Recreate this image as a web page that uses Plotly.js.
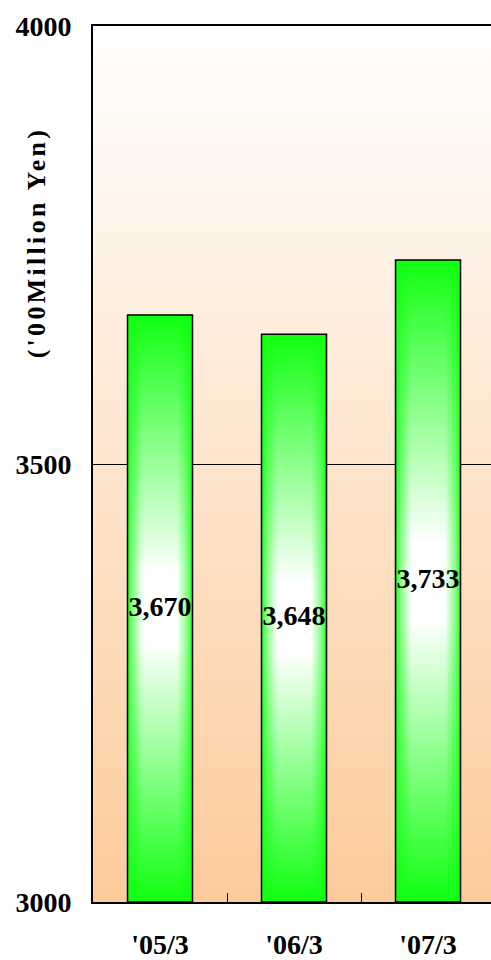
<!DOCTYPE html>
<html>
<head>
<meta charset="utf-8">
<script src="https://cdn.plot.ly/plotly-3.0.1.min.js"></script>
<style>html,body{margin:0;padding:0;background:#fff;}#chart{width:491px;height:960px;}</style>
</head>
<body>
<div id="chart"></div>
<script>
// ---- data ----
const categories = ["'05/3", "'06/3", "'07/3"];
const values = [3670, 3648, 3733];
const yTicks = [3000, 3500, 4000];
const yTitle = "('00Million Yen)";

// ---- style ----
const FONT = "Liberation Serif";
const GREEN = '#11FF11';
const BAR_W = 0.485;
const BASE = yTicks[0];
const xIdx = categories.map((_, i) => i);

const traces = [];
values.forEach((v, i) => {
  const xs = [i - BAR_W / 2, i + BAR_W / 2, i + BAR_W / 2, i - BAR_W / 2, i - BAR_W / 2];
  const ys = [BASE, BASE, v, v, BASE];
  traces.push({
    type: 'scatter', mode: 'lines', x: xs, y: ys, fill: 'toself',
    line: {width: 0, color: 'rgba(0,0,0,0)'},
    fillgradient: {type: 'vertical', start: BASE, stop: v,
      colorscale: [[0, GREEN], [0.44, '#FFFFFF'], [0.56, '#FFFFFF'], [1, GREEN]]},
    hoverinfo: 'skip', showlegend: false
  });
  traces.push({
    type: 'scatter', mode: 'lines', x: xs, y: ys, fill: 'toself',
    line: {width: 1.5, color: '#000'},
    fillgradient: {type: 'horizontal', start: i - BAR_W / 2, stop: i + BAR_W / 2,
      colorscale: [[0, 'rgba(17,255,17,0.95)'], [0.08, 'rgba(17,255,17,0.5)'], [0.24, 'rgba(17,255,17,0)'],
                   [0.76, 'rgba(17,255,17,0)'], [0.92, 'rgba(17,255,17,0.5)'], [1, 'rgba(17,255,17,0.95)']]},
    hoverinfo: 'skip', showlegend: false
  });
});
traces.push({
  type: 'scatter', mode: 'text', x: xIdx,
  y: values.map(v => (BASE + v) / 2),
  text: values.map(v => '<b>' + v.toLocaleString('en-US') + '</b>'),
  textposition: 'middle center',
  textfont: {family: FONT, size: 28, color: '#000'},
  hoverinfo: 'skip', showlegend: false
});

const bgSvg = "<svg xmlns='http://www.w3.org/2000/svg' width='100' height='100' preserveAspectRatio='none'>" +
  "<defs><linearGradient id='g' x1='0' y1='0' x2='0' y2='1'>" +
  "<stop offset='0' stop-color='#FFFFFF'/><stop offset='1' stop-color='#FDCB9B'/>" +
  "</linearGradient></defs><rect width='100' height='100' fill='url(#g)'/></svg>";

const layout = {
  width: 491, height: 960,
  margin: {l: 93, r: 0, t: 26, b: 58},
  paper_bgcolor: '#FFFFFF',
  plot_bgcolor: 'rgba(0,0,0,0)',
  showlegend: false,
  images: [{
    source: 'data:image/svg+xml;charset=utf-8,' + encodeURIComponent(bgSvg),
    xref: 'paper', yref: 'paper', x: 0, y: 1, sizex: 1, sizey: 1,
    sizing: 'stretch', layer: 'below', xanchor: 'left', yanchor: 'top'
  }],
  xaxis: {
    type: 'linear', range: [-0.5, categories.length - 0.53], fixedrange: true,
    tickmode: 'array', tickvals: xIdx, ticktext: categories.map(c => '<b>' + c + '</b>'),
    ticks: 'outside', ticklen: 16, tickcolor: 'rgba(0,0,0,0)',
    tickfont: {family: FONT, size: 28, color: '#000'},
    showgrid: false, zeroline: false,
    showline: true, linecolor: '#000', linewidth: 2, mirror: true,
    minor: {tickmode: 'array', tickvals: xIdx.slice(1).map(i => i - 0.5),
            ticks: 'inside', ticklen: 9, tickwidth: 1, tickcolor: '#000', showgrid: false}
  },
  yaxis: {
    range: [yTicks[0], yTicks[yTicks.length - 1]], fixedrange: true,
    tickmode: 'array', tickvals: yTicks, ticktext: yTicks.map(t => '<b>' + t + '</b>'),
    ticks: 'outside', ticklen: 14, tickcolor: 'rgba(0,0,0,0)',
    tickfont: {family: FONT, size: 28, color: '#000'},
    showgrid: true, gridcolor: '#000', gridwidth: 1, zeroline: false,
    showline: true, linecolor: '#000', linewidth: 2
  },
  annotations: [{
    xref: 'paper', yref: 'paper', x: -57 / 398, y: 0.753,
    xanchor: 'center', yanchor: 'middle', showarrow: false, textangle: -90,
    text: '<b><span style="letter-spacing:3.3px">' + yTitle + '</span></b>',
    font: {family: FONT, size: 26, color: '#000'}
  }]
};

Plotly.newPlot('chart', traces, layout, {displayModeBar: false, staticPlot: true});
</script>
</body>
</html>
